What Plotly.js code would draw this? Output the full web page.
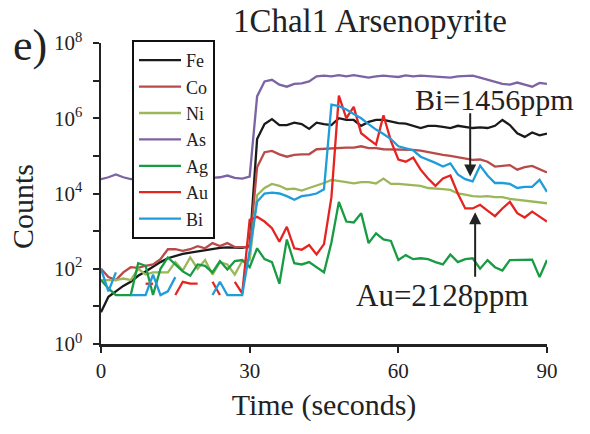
<!DOCTYPE html>
<html>
<head>
<meta charset="utf-8">
<script src="https://cdn.plot.ly/plotly-3.0.1.min.js"></script>
<style>html,body{margin:0;padding:0;background:#fff;}#chart{width:590px;height:434px;}</style>
</head>
<body>
<div id="chart"></div>
<script>
// Time (seconds)
const time = [0,1.5,3,4.5,6,7.5,9,10.5,12,13.5,15,16.5,18,19.5,21,22.5,24,25.5,27,28.5,30,
  31.5,33,34.5,36,37.5,39,40.5,42,43.5,45,46.5,48,49.5,51,52.5,54,55.5,57,58.5,60,
  61.5,63,64.5,66,67.5,69,70.5,72,73.5,75,76.5,78,79.5,81,82.5,84,85.5,87,88.5,90];

const fe = [7,18,25,35,45,65,85,115,150,190,220,250,270,290,320,340,360,370,370,360,400,
  2.8e5,7e5,9.5e5,6.6e5,6.6e5,7.6e5,7e5,5.2e5,7.6e5,7e5,6.6e5,1e6,9e5,9e5,6.3e5,8e5,9e5,9e5,8.3e5,7.4e5,
  7.2e5,6.3e5,5.5e5,6.3e5,6.3e5,5.9e5,5.5e5,6.3e5,6e5,5.5e5,5.7e5,5.5e5,6.3e5,9e5,6.6e5,4e5,3.2e5,4.2e5,3.5e5,3.9e5];

const co = [100,60,50,80,110,105,120,130,180,330,330,300,330,400,350,480,400,480,380,370,370,
  5e4,1.25e5,1.35e5,1.1e5,9.5e4,1.07e5,1.1e5,1.1e5,1.5e5,1.55e5,1.6e5,1.6e5,1.65e5,1.65e5,1.8e5,1.6e5,1.6e5,1.5e5,1.5e5,1.5e5,
  1.5e5,1.45e5,1.38e5,1.25e5,1.15e5,1.07e5,1e5,9.3e4,8.5e4,7.8e4,8e4,7e4,5.2e4,5.5e4,5.7e4,4.3e4,5e4,5.4e4,4.5e4,3.6e4];

const ni = [50,50,50,55,50,100,70,80,80,80,150,90,200,100,170,70,150,130,70,160,170,
  9e3,1.4e4,1.8e4,1.6e4,1.3e4,1.35e4,1.2e4,1.4e4,1.6e4,1.9e4,2.3e4,2.1e4,2e4,1.85e4,2e4,2e4,1.85e4,2.5e4,1.8e4,1.8e4,
  1.75e4,1.7e4,1.6e4,1.4e4,1.38e4,1.3e4,1.25e4,1e4,9.3e3,8.5e3,8.3e3,8.5e3,8e3,8e3,7.2e3,6.8e3,6.6e3,6.3e3,5.9e3,5.5e3];

const as = [2.4e4,2.7e4,3.2e4,2.7e4,2.4e4,2.5e4,2.6e4,2.5e4,2.4e4,2.6e4,2.5e4,2.7e4,2.5e4,2.6e4,2.8e4,2.6e4,2.7e4,3e4,2.6e4,2.5e4,2.8e4,
  3.8e6,9.5e6,1.05e7,7.8e6,6.9e6,8.2e6,8.5e6,9.5e6,1.3e7,1.35e7,1.3e7,1.4e7,1.3e7,1.4e7,1.3e7,1.2e7,1.3e7,1.35e7,1.3e7,1.25e7,
  1.38e7,1.3e7,1.35e7,1.3e7,1.25e7,1.26e7,1.2e7,1.3e7,1.3e7,1.35e7,1.2e7,1.05e7,9.5e6,8.2e6,7.8e6,8.9e6,7.8e6,6.9e6,8.7e6,8.2e6];

const ag = [50,30,20,20,20,140,120,20,100,200,130,85,65,130,120,80,160,95,160,170,110,
  350,180,150,40,600,140,130,150,110,80,500,6000,1800,1700,3000,480,870,600,550,170,
  230,180,190,180,150,130,240,150,180,190,100,170,110,90,170,170,170,175,60,170];

const au = [null,null,null,null,null,null,40,40,null,null,20,45,40,40,null,45,20,null,45,22,2000,
  2400,1800,1200,520,1300,350,320,430,240,450,8000,4e6,1e6,2e6,4e5,2.8e5,2e5,1.2e6,2.5e5,8e4,
  7e4,9e4,4.3e4,2.5e4,1.6e4,2.5e4,3e4,1e4,4000,4000,5000,3500,2500,4000,6000,3000,2300,3300,2500,1800];

const bi = [100,25,80,null,20,20,20,70,20,25,60,null,null,null,null,20,45,20,20,20,300,
  6000,1e4,1.05e4,1e4,8500,6800,8500,9000,1e4,1.3e4,2.3e6,2.1e6,1.7e6,1.3e6,1e6,7e5,5e5,3.8e5,2.8e5,1.8e5,
  1.6e5,1.4e5,9.5e4,8e4,6.5e4,5.2e4,6.3e4,3.2e4,2.4e4,2.1e4,5.5e4,3e4,1.9e4,1.9e4,1.8e4,1.4e4,1.5e4,1.5e4,2.3e4,1.1e4];

const names = ['Fe','Co','Ni','As','Ag','Au','Bi'];
const seriesList = [fe, co, ni, as, ag, au, bi];
const colors = ['#1a1a1a','#b94a48','#9bb75a','#7c63a4','#179b43','#e52421','#1f9ddb'];

const xTicks = [0,30,60,90];
const yTickVals = [1,100,1e4,1e6,1e8];
const yTickText = ['10<sup>0</sup>','10<sup>2</sup>','10<sup>4</sup>','10<sup>6</sup>','10<sup>8</sup>'];
const yMinorVals = [10,1e3,1e5,1e7];

const serif = 'Liberation Serif, Times New Roman, serif';
const ink = '#222';

const traces = names.map((n, i) => ({
  x: time, y: seriesList[i], name: n, type: 'scatter', mode: 'lines',
  line: {color: colors[i], width: 2.3}, connectgaps: false
}));

const layout = {
  width: 590, height: 434,
  margin: {l: 101, r: 43, t: 43, b: 90},
  paper_bgcolor: '#fff', plot_bgcolor: '#fff',
  font: {family: serif, color: ink},
  title: {text: '1Chal1 Arsenopyrite', font: {family: serif, size: 33, color: ink},
          x: 0.603, xanchor: 'center', xref: 'paper', y: 0.953, yanchor: 'middle'},
  showlegend: true,
  legend: {x: 0.0695, y: 1.01, xanchor: 'left', yanchor: 'top', itemwidth: 42,
           bgcolor: '#fff', bordercolor: '#111', borderwidth: 2,
           font: {family: serif, size: 18, color: ink}},
  xaxis: {range: [0, 90], tickvals: xTicks, ticks: 'outside', ticklen: 6, tickwidth: 2,
          tickcolor: ink, showline: true, linecolor: ink, linewidth: 2.5,
          showgrid: false, zeroline: false,
          tickfont: {family: serif, size: 21, color: ink},
          title: {text: 'Time (seconds)', font: {family: serif, size: 30, color: ink}, standoff: 13}},
  yaxis: {type: 'log', range: [0, 8], tickmode: 'array', tickvals: yTickVals, ticktext: yTickText,
          ticks: 'outside', ticklen: 6, tickwidth: 2, tickcolor: ink,
          minor: {tickmode: 'array', tickvals: yMinorVals, ticks: 'outside', ticklen: 6, tickwidth: 2, tickcolor: ink, showgrid: false},
          showline: true, linecolor: ink, linewidth: 2.5, showgrid: false, zeroline: false,
          tickfont: {family: serif, size: 21, color: ink}, ticklabelstandoff: 6},
  annotations: [
    {text: 'Counts', xref: 'paper', yref: 'paper', x: -0.177, y: 0.455, textangle: -90,
     xanchor: 'center', yanchor: 'middle',
     showarrow: false, font: {family: serif, size: 30, color: ink}},
    {text: 'e)', xref: 'paper', yref: 'paper', x: -0.159, y: 0.993,
     xanchor: 'center', yanchor: 'middle',
     showarrow: false, font: {family: serif, size: 44, color: ink}},
    {text: 'Bi=1456ppm', xref: 'x', yref: 'y', x: 79.5, y: 6.49, showarrow: false,
     xanchor: 'center', yanchor: 'middle',
     font: {family: serif, size: 30, color: ink}},
    {text: 'Au=2128ppm', xref: 'x', yref: 'y', x: 68.8, y: 1.28, showarrow: false,
     xanchor: 'center', yanchor: 'middle',
     font: {family: serif, size: 31, color: ink}},
    {text: '', xref: 'x', yref: 'y', x: 74.5, y: 4.45, axref: 'x', ayref: 'y', ax: 74.5, ay: 6.17,
     showarrow: true, arrowhead: 2, arrowsize: 1.2, arrowwidth: 2, arrowcolor: ink},
    {text: '', xref: 'x', yref: 'y', x: 75.5, y: 3.5, axref: 'x', ayref: 'y', ax: 75.5, ay: 1.75,
     showarrow: true, arrowhead: 2, arrowsize: 1.2, arrowwidth: 2, arrowcolor: ink}
  ]
};

Plotly.newPlot('chart', traces, layout, {displayModeBar: false, staticPlot: true});
</script>
</body>
</html>
